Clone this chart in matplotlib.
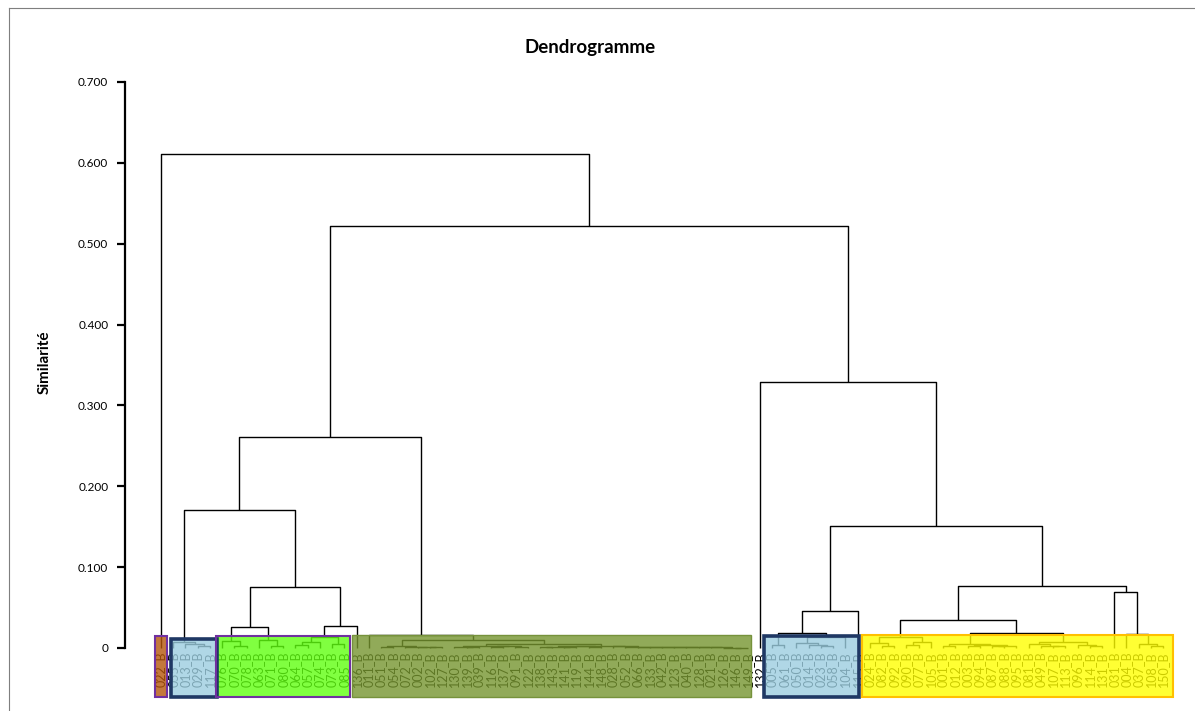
import matplotlib
matplotlib.use("Agg")
import matplotlib.pyplot as plt
from matplotlib.patches import Rectangle
from matplotlib.lines import Line2D

plt.rcParams['font.family'] = ['Lato', 'DejaVu Sans']

# ---------------- data ----------------
leaf_ids = ["022",
            "055", "013", "029", "117",
            "076", "070", "078", "063", "071", "080", "064", "057", "074", "073", "085",
            "136", "011", "051", "054", "072", "002", "102", "127", "130", "139", "039",
            "116", "137", "091", "122", "138", "143", "141", "119", "144", "148", "028",
            "052", "066", "133", "042", "123", "040", "128", "021", "126", "146", "149",
            "132",
            "005", "061", "050", "014", "023", "058", "104", "115",
            "024", "082", "092", "090", "077", "105", "001", "012", "003", "094", "087",
            "088", "095", "081", "049", "107", "113", "096", "114", "131", "031", "004",
            "037", "108", "150"]
leaf_labels = [s + "_B" for s in leaf_ids]

# merges: (new node, left child, right child, similarity level)
merges_blue_left = [
    ("lb1", "029_B", "117_B", 0.002),
    ("lb2", "013_B", "lb1", 0.005),
    ("LB", "055_B", "lb2", 0.008),
]
merges_green = [
    ("g1", "070_B", "078_B", 0.003),
    ("g2", "076_B", "g1", 0.009),
    ("g3", "071_B", "080_B", 0.002),
    ("g4", "063_B", "g3", 0.010),
    ("g5", "g2", "g4", 0.026),
    ("g6", "064_B", "057_B", 0.004),
    ("g7", "g6", "074_B", 0.008),
    ("g8", "073_B", "085_B", 0.005),
    ("g9", "g7", "g8", 0.013),
    ("g10", "g9", "136_B", 0.027),
    ("G", "g5", "g10", 0.075),
    ("L1", "LB", "G", 0.171),
]
merges_olive = [
    ("o1", "051_B", "054_B", 0.0010),
    ("o2", "102_B", "127_B", 0.0008),
    ("o3", "002_B", "o2", 0.0012),
    ("o4", "072_B", "o3", 0.0016),
    ("oA", "o1", "o4", 0.0022),
    ("b1", "139_B", "039_B", 0.0010),
    ("b2", "130_B", "b1", 0.0015),
    ("b3", "116_B", "137_B", 0.0010),
    ("b4", "091_B", "122_B", 0.0008),
    ("b5", "b3", "b4", 0.0020),
    ("oB1", "b2", "b5", 0.0030),
    ("c1", "138_B", "143_B", 0.0010),
    ("c2", "141_B", "119_B", 0.0007),
    ("c3", "c1", "c2", 0.0015),
    ("c4", "144_B", "148_B", 0.0010),
    ("oB2a", "c3", "c4", 0.0020),
    ("e1", "146_B", "149_B", 0.0004),
    ("e2", "126_B", "e1", 0.0006),
    ("e3", "021_B", "e2", 0.0008),
    ("e4", "128_B", "e3", 0.0010),
    ("e5", "040_B", "e4", 0.0011),
    ("e6", "123_B", "e5", 0.0012),
    ("e7", "042_B", "e6", 0.0013),
    ("e8", "133_B", "e7", 0.0014),
    ("e9", "066_B", "e8", 0.0016),
    ("e10", "052_B", "e9", 0.0018),
    ("oB2b", "028_B", "e10", 0.0020),
    ("oB2", "oB2a", "oB2b", 0.0030),
    ("oB", "oB1", "oB2", 0.0050),
    ("oX", "oA", "oB", 0.0100),
    ("O", "011_B", "oX", 0.0160),
    ("L2", "L1", "O", 0.261),
]
merges_blue_right = [
    ("r1", "005_B", "061_B", 0.004),
    ("r2", "023_B", "058_B", 0.002),
    ("r3", "014_B", "r2", 0.004),
    ("r4", "050_B", "r3", 0.006),
    ("r5", "r4", "104_B", 0.013),
    ("r6", "r1", "r5", 0.018),
    ("R1", "r6", "115_B", 0.046),
]
merges_yellow = [
    ("y1", "082_B", "092_B", 0.003),
    ("y2", "024_B", "y1", 0.006),
    ("y3", "090_B", "077_B", 0.004),
    ("y4", "y3", "105_B", 0.008),
    ("Y1", "y2", "y4", 0.014),
    ("f1", "001_B", "012_B", 0.003),
    ("f2", "003_B", "094_B", 0.002),
    ("f3", "087_B", "088_B", 0.002),
    ("f4", "f3", "095_B", 0.003),
    ("f5", "f2", "f4", 0.004),
    ("Y2a", "f1", "f5", 0.005),
    ("h1", "107_B", "113_B", 0.002),
    ("h2", "049_B", "h1", 0.003),
    ("h3", "081_B", "h2", 0.005),
    ("h4", "114_B", "131_B", 0.002),
    ("h5", "096_B", "h4", 0.004),
    ("Y2b", "h3", "h5", 0.007),
    ("Y2", "Y2a", "Y2b", 0.018),
    ("Y3", "Y1", "Y2", 0.035),
    ("k1", "108_B", "150_B", 0.003),
    ("k2", "037_B", "k1", 0.005),
    ("k3", "004_B", "k2", 0.017),
    ("k4", "031_B", "k3", 0.069),
    ("Y", "Y3", "k4", 0.077),
]
merges_top = [
    ("R2", "R1", "Y", 0.151),
    ("R3", "132_B", "R2", 0.329),
    ("M", "L2", "R3", 0.522),
    ("root", "022_B", "M", 0.611),
]

# class boxes: first leaf, last leaf
class_first = ["022_B", "055_B", "076_B", "136_B", "005_B", "024_B"]
class_last = ["022_B", "117_B", "085_B", "149_B", "115_B", "150_B"]

y_ticks = [0.0, 0.1, 0.2, 0.3, 0.4, 0.5, 0.6, 0.7]
y_tick_labels = ["0", "0.100", "0.200", "0.300", "0.400", "0.500", "0.600", "0.700"]

# ---------------- style ----------------
box_face = ["#B5560B", "#9CCEE0", "#60FF10", "#76952F", "#9CCEE0", "#FFFF00"]
box_edge = ["#7030A0", "#1F3864", "#7030A0", "#76923C", "#1F3864", "#FFC000"]
box_lw = [1.5, 2.6, 1.5, 1.0, 2.6, 1.5]
box_pad = [(0.0, 0.0), (0.32, 0.08), (0.0, -0.03), (0.13, -0.2), (-0.15, -0.4), (-0.1, 0.3)]
box_top = [0.0148, 0.011, 0.0148, 0.016, 0.0148, 0.016]
box_bottom = -0.061

W, H = 1195, 711
fig = plt.figure(figsize=(W / 100, H / 100), dpi=100)
ax_left_px, ax_right_px, ax_top_px, ax_bot_px = 125, 1180, 82, 648
ax = fig.add_axes([ax_left_px / W, 1 - ax_bot_px / H,
                   (ax_right_px - ax_left_px) / W, (ax_bot_px - ax_top_px) / H])

leaf0_px, step_px = 161, 12.22
ax.set_xlim((ax_left_px - leaf0_px) / step_px, (ax_right_px - leaf0_px) / step_px)
ax.set_ylim(0, 0.7)

pos = {lab: i for i, lab in enumerate(leaf_labels)}
hgt = {lab: 0.0 for lab in leaf_labels}
all_merges = (merges_blue_left + merges_green + merges_olive +
              merges_blue_right + merges_yellow + merges_top)
for node, a, b, h in all_merges:
    pos[node] = (pos[a] + pos[b]) / 2
    hgt[node] = h
    ax.plot([pos[a], pos[a], pos[b], pos[b]], [hgt[a], h, h, hgt[b]],
            color="black", lw=1.0, solid_capstyle="butt", clip_on=False, zorder=2)

for i, lab in enumerate(leaf_labels):
    ax.annotate(lab, xy=(i, 0), xytext=(0, -2.5), textcoords="offset points",
                rotation=90, ha="center", va="top", fontsize=9,
                color="black", annotation_clip=False, zorder=3)

for k in range(len(class_first)):
    x0 = pos[class_first[k]] - 0.5 + box_pad[k][0]
    x1 = pos[class_last[k]] + 0.5 + box_pad[k][1]
    ax.add_patch(Rectangle((x0, box_bottom), x1 - x0, box_top[k] - box_bottom,
                           facecolor=box_face[k], edgecolor="none", alpha=0.8,
                           clip_on=False, zorder=4))
    ax.add_patch(Rectangle((x0, box_bottom), x1 - x0, box_top[k] - box_bottom,
                           facecolor="none", edgecolor=box_edge[k], lw=box_lw[k],
                           clip_on=False, zorder=5))

for s in ["top", "right", "bottom"]:
    ax.spines[s].set_visible(False)
ax.spines["left"].set_linewidth(1.6)
ax.set_xticks([])
ax.set_yticks(y_ticks)
ax.set_yticklabels(y_tick_labels)
ax.tick_params(axis="y", direction="out", length=6, width=1.6, labelsize=8.5, pad=6)

fig.text(590 / W, 1 - 48 / H, "Dendrogramme", ha="center", va="center",
         fontsize=13.5, fontweight="bold")
fig.text(45 / W, 1 - 362 / H, "Similarité", ha="center", va="center",
         rotation=90, fontsize=11, fontweight="bold")

# outer frame
fig.add_artist(Line2D([8.5 / W, 8.5 / W], [0, 1 - 7.5 / H], color="#7f7f7f", lw=0.8,
                      transform=fig.transFigure))
fig.add_artist(Line2D([8.5 / W, 1], [1 - 7.5 / H, 1 - 7.5 / H], color="#7f7f7f", lw=0.8,
                      transform=fig.transFigure))

fig.savefig("out.png", dpi=100)
